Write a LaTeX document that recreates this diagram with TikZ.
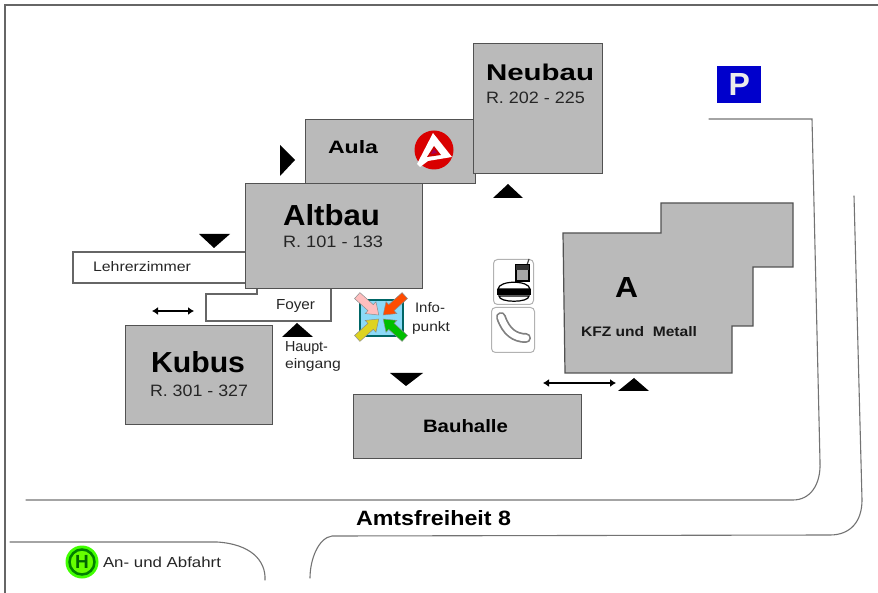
\documentclass[tikz,border=0pt]{standalone}
\usepackage{fontspec}
\setmainfont{Liberation Sans}
\usetikzlibrary{arrows.meta}
\tikzset{
  bldg/.style={draw=black!68,fill=black!27,line width=1.2pt,line join=miter},
  room/.style={draw=black!60,fill=white,line width=1.1pt},
  road/.style={draw=black!55,line width=1.1pt,line cap=round},
  tri/.style={fill=black,draw=none},
  dbl/.style={black,line width=1.5pt,{Latex[length=6pt,width=8pt]}-{Latex[length=6pt,width=8pt]}},
  lbl/.style={anchor=base west,inner sep=0pt,outer sep=0pt},
  iconbox/.style={draw=black!30,fill=white,line width=1pt,rounded corners=4pt},
}
\newcommand{\fitb}[3]{\resizebox{#1pt}{#2pt}{\bfseries #3}}
\newcommand{\fitr}[3]{\resizebox{#1pt}{#2pt}{#3}}
\newcommand{\infoarrow}[2]{%
  \begin{scope}[shift={(381,317)},rotate=#1]
    \fill[#2,draw=black!45,line width=.5pt] (3,0) -- (14,-8) -- (14,-4) -- (32,-4) -- (32,4) -- (14,4) -- (14,8) -- cycle;
  \end{scope}}
\begin{document}
\begin{tikzpicture}[x=1pt,y=-1pt]
\useasboundingbox (0,0) rectangle (878,593);
% frame
\draw[draw=black!60,line width=1.1pt] (878,5) -- (5,5) -- (5,593);
% roads
\coordinate (r1a) at (709,119);
\coordinate (r1b) at (812,119);
\coordinate (r1c) at (793,500);
\coordinate (r1d) at (26,500);
\draw[road] (r1a) -- (r1b) -- (820,462) .. controls (821,485) and (810,500) .. (r1c) -- (r1d);
\coordinate (r2a) at (854,196);
\coordinate (r2b) at (830,535);
\coordinate (r2c) at (332,536);
\coordinate (r2d) at (310,578);
\draw[road] (r2a) -- (862,500) .. controls (862,522) and (850,535) .. (r2b) -- (r2c) .. controls (318,538) and (310,560) .. (r2d);
\coordinate (r3a) at (10,542);
\coordinate (r3b) at (217,542);
\coordinate (r3c) at (265,580);
\draw[road] (r3a) -- (r3b) .. controls (250,544) and (266,560) .. (r3c);
% rooms
\draw[room] (73,252) rectangle (246,283);
\draw[room] (206,294) -- (257,294) -- (257,286) -- (331,286) -- (331,321) -- (206,321) -- cycle;
% buildings
\node[bldg,minimum width=170pt,minimum height=64pt,inner sep=0pt,anchor=north west] (aula) at (305,119) {};
\node[bldg,minimum width=129pt,minimum height=130pt,inner sep=0pt,anchor=north west] (neubau) at (473,43) {};
\node[bldg,minimum width=177pt,minimum height=105pt,inner sep=0pt,anchor=north west] (altbau) at (245,183) {};
\node[bldg,minimum width=147pt,minimum height=99pt,inner sep=0pt,anchor=north west] (kubus) at (125,325) {};
\node[bldg,minimum width=228pt,minimum height=64pt,inner sep=0pt,anchor=north west] (bauhalle) at (353,394) {};
\draw[bldg] (563,233) -- (661,233) -- (661,203) -- (793,203) -- (793,267) -- (753,267) -- (753,326) -- (732,326) -- (732,373) -- (565,373) -- cycle;
% triangles
\fill[tri] (280,145) -- (295,160) -- (280,176) -- cycle;
\fill[tri] (508,184) -- (523,198) -- (493,198) -- cycle;
\fill[tri] (199,234) -- (230,234) -- (214,248) -- cycle;
\fill[tri] (297,323) -- (313,337) -- (282,337) -- cycle;
\fill[tri] (390,373) -- (423,373) -- (406,386) -- cycle;
\fill[tri] (634,378) -- (649,391) -- (618,391) -- cycle;
% double arrows
\coordinate (d1a) at (152,311); \coordinate (d1b) at (194,311);
\draw[dbl] (d1a) -- (d1b);
\coordinate (d2a) at (543,383); \coordinate (d2b) at (616,383);
\draw[dbl] (d2a) -- (d2b);
% labels
\node[lbl] (tneu) at (486,81) {\fitb{108}{16.5}{Neubau}};
\node[lbl,text=black!85] (rneu) at (486,104) {\fitr{99}{11.5}{R. 202 - 225}};
\node[lbl] (taula) at (328,154) {\fitb{50}{13}{Aula}};
\node[lbl] (talt) at (283,226) {\fitb{97}{21}{Altbau}};
\node[lbl,text=black!85] (ralt) at (283,248) {\fitr{100}{11.5}{R. 101 - 133}};
\node[lbl] (tkub) at (151,373) {\fitb{94}{21}{Kubus}};
\node[lbl,text=black!85] (rkub) at (150,396) {\fitr{98}{11.5}{R. 301 - 327}};
\node[lbl,text=black!85] (tleh) at (93,272) {\fitr{98}{10}{Lehrerzimmer}};
\node[lbl,text=black!85] (tfoy) at (276,310) {\fitr{39}{10}{Foyer}};
\node[lbl,text=black!85] (thau) at (285,352) {\fitr{43}{10}{Haupt-}};
\node[lbl,text=black!85] (tein) at (285,368) {\fitr{56}{10}{eingang}};
\node[lbl,text=black!85] (tinf) at (415,313) {\fitr{30}{10}{Info-}};
\node[lbl,text=black!85] (tpun) at (412,332) {\fitr{38}{10}{punkt}};
\node[lbl] (ta) at (615,298) {\fitb{23}{20}{A}};
\node[lbl,text=black!90] (tkfz) at (581,337) {\fitb{116}{10}{KFZ und\ \ Metall}};
\node[lbl] (tbau) at (423,432) {\fitb{85}{13}{Bauhalle}};
\node[lbl] (tamt) at (356,525) {\fitb{155}{15}{Amtsfreiheit 8}};
\node[lbl,text=black!85] (tab) at (103,567) {\fitr{118}{10.5}{An- und Abfahrt}};
% P sign
\node[fill=blue!80!black,minimum width=44pt,minimum height=37pt,inner sep=0pt,anchor=north west,text=black!8,font=\bfseries\fontsize{32}{32}\selectfont] (psign) at (717,66) {P};
% agency logo
\node[circle,fill=red!85!black,minimum size=39pt,inner sep=0pt] (logo) at (434,150) {};
\fill[white,line join=round] (433,133) -- (452,157) -- (428,161) -- (420,167) -- (417,164) -- cycle;
\fill[red!80!black] (434,146) -- (441,155) -- (427,157) -- cycle;
\fill[violet!70!red] (434,149) -- (437,153) -- (431,154) -- cycle;
% info icon
\node[draw=teal!80!black,fill=cyan!45,line width=1.3pt,minimum width=43pt,minimum height=36pt,inner sep=0pt] (info) at (381.5,318) {};
\infoarrow{138}{red!15!pink!70}
\infoarrow{42}{orange!60!red}
\infoarrow{-138}{yellow!85!black}
\infoarrow{-42}{green!75!black}
% food icons
\node[iconbox,minimum width=40pt,minimum height=45pt,inner sep=0pt,anchor=north west] (food) at (493,259) {};
\node[iconbox,minimum width=43pt,minimum height=45pt,inner sep=0pt,anchor=north west] (saus) at (491,307) {};
\draw[black!75,line width=1.2pt] (526,268) -- (529,259);
\draw[black,line width=1.2pt,fill=black!35] (516,265) rectangle (529,281);
\fill[black!80] (516,265) rectangle (529,270);
\draw[black,line width=1.2pt,fill=white] (498,289) .. controls (499,280) and (529,280) .. (530,289) -- cycle;
\fill[black] (497,289) rectangle (531,295);
\draw[black,line width=1.2pt,fill=white] (499,296) -- (529,296) .. controls (529,303) and (499,303) .. (499,296) -- cycle;
\draw[black!50,line width=10pt,line cap=round] (501,317) .. controls (506,332) and (515,338) .. (526,338);
\draw[white,line width=6.5pt,line cap=round] (501,317) .. controls (506,332) and (515,338) .. (526,338);
% bus stop
\node[circle,fill=green!75!yellow,minimum size=33pt,inner sep=0pt] (hglow) at (82,562) {};
\node[circle,draw=green!50!black,line width=2.5pt,fill=green!60!yellow,minimum size=25pt,inner sep=0pt,text=green!40!black,font=\bfseries\fontsize{19}{19}\selectfont] (hstop) at (82,562) {H};
\end{tikzpicture}
\end{document}
